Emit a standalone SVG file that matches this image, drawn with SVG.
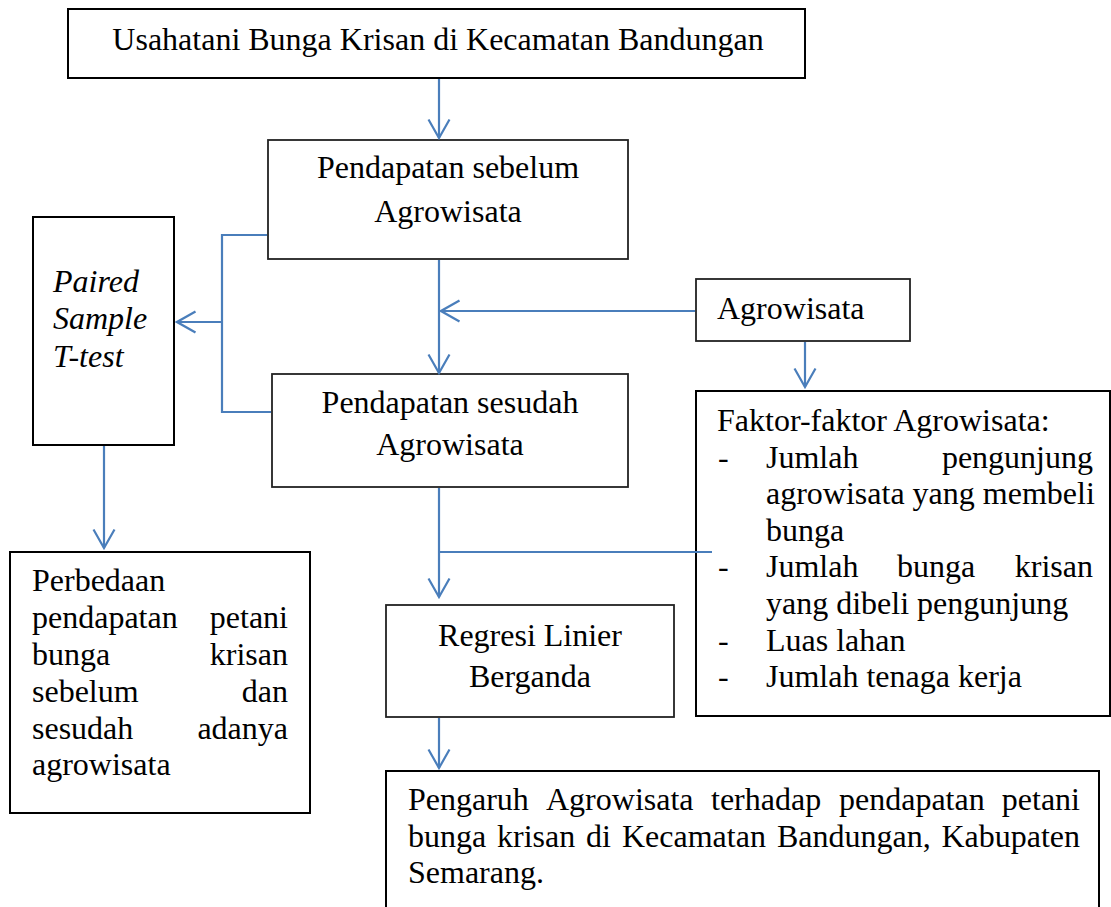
<svg xmlns="http://www.w3.org/2000/svg" width="1111" height="907" viewBox="0 0 1111 907">
<style>
.box{fill:#fff;stroke:#000;stroke-width:2}
.box2{fill:#fff;stroke:#222;stroke-width:1.8}
.t{font-family:"Liberation Serif","Times New Roman",serif;font-size:32px;fill:#000}
.c{text-anchor:middle}
.e{text-anchor:end}
.i{font-style:italic}
.con{fill:none;stroke:#4A7EBB;stroke-width:2.2}
</style>
<defs>
<marker id="arr" markerUnits="userSpaceOnUse" viewBox="0 0 22 24" refX="20" refY="12" markerWidth="22" markerHeight="24" orient="auto">
<path d="M1.5,1.5 L20,12 L1.5,22.5" fill="none" stroke="#4A7EBB" stroke-width="2.2"/>
</marker>
</defs>
<rect width="1111" height="907" fill="#fff"/>
<g id="usahatani">
<rect class="box" x="68" y="9" width="737" height="69"/>
<text class="t c" x="438" y="50">Usahatani Bunga Krisan di Kecamatan Bandungan</text>
</g>
<g id="sebelum">
<rect class="box2" x="268" y="140" width="360" height="119"/>
<text class="t c" x="448" y="178">Pendapatan sebelum</text>
<text class="t c" x="448" y="222">Agrowisata</text>
</g>
<g id="paired">
<rect class="box" x="33" y="217" width="141" height="228"/>
<text class="t i" x="53" y="292">Paired</text>
<text class="t i" x="53" y="329">Sample</text>
<text class="t i" x="53" y="367">T-test</text>
</g>
<g id="agrowisata">
<rect class="box2" x="696" y="279" width="214" height="62"/>
<text class="t" x="717" y="319">Agrowisata</text>
</g>
<g id="sesudah">
<rect class="box2" x="272" y="374" width="356" height="113"/>
<text class="t c" x="450" y="413">Pendapatan sesudah</text>
<text class="t c" x="450" y="455">Agrowisata</text>
</g>
<g id="faktor">
<rect class="box" x="696" y="391" width="414" height="325"/>
<text class="t" x="717" y="431">Faktor-faktor Agrowisata:</text>
<text class="t" x="718" y="467.6">-</text>
<text class="t" x="766" y="467.6">Jumlah</text>
<text class="t e" x="1093" y="467.6">pengunjung</text>
<text class="t" x="766" y="504.2">agrowisata yang membeli</text>
<text class="t" x="766" y="540.8">bunga</text>
<text class="t" x="718" y="577.4">-</text>
<text class="t" x="766" y="577.4">Jumlah</text>
<text class="t" x="897" y="577.4">bunga</text>
<text class="t e" x="1093" y="577.4">krisan</text>
<text class="t" x="766" y="614">yang dibeli pengunjung</text>
<text class="t" x="718" y="650.6">-</text>
<text class="t" x="766" y="650.6">Luas lahan</text>
<text class="t" x="718" y="687.2">-</text>
<text class="t" x="766" y="687.2">Jumlah tenaga kerja</text>
</g>
<g id="perbedaan">
<rect class="box" x="10" y="552" width="300" height="261"/>
<text class="t" x="32" y="591">Perbedaan</text>
<text class="t" x="32" y="628">pendapatan</text>
<text class="t e" x="288" y="628">petani</text>
<text class="t" x="32" y="665">bunga</text>
<text class="t e" x="288" y="665">krisan</text>
<text class="t" x="32" y="702">sebelum</text>
<text class="t e" x="288" y="702">dan</text>
<text class="t" x="32" y="738.5">sesudah</text>
<text class="t e" x="288" y="738.5">adanya</text>
<text class="t" x="32" y="775">agrowisata</text>
</g>
<g id="regresi">
<rect class="box2" x="386" y="605" width="288" height="112"/>
<text class="t c" x="530" y="646">Regresi Linier</text>
<text class="t c" x="530" y="687">Berganda</text>
</g>
<g id="pengaruh">
<rect class="box" x="386" y="771" width="713" height="150"/>
<text class="t" y="810"><tspan x="408">Pengaruh</tspan> <tspan x="546">Agrowisata</tspan> <tspan x="711">terhadap</tspan> <tspan x="839">pendapatan</tspan> <tspan x="1080" text-anchor="end">petani</tspan></text>
<text class="t" y="846.6"><tspan x="408">bunga</tspan> <tspan x="497">krisan</tspan> <tspan x="586">di</tspan> <tspan x="622">Kecamatan</tspan> <tspan x="777">Bandungan,</tspan> <tspan x="1080" text-anchor="end">Kabupaten</tspan></text>
<text class="t" x="408" y="883">Semarang.</text>
</g>
<g id="connectors">
<path class="con" d="M439,79 V138" marker-end="url(#arr)"/>
<path class="con" d="M267,235 H222 V412 H271"/>
<path class="con" d="M222,322 H177" marker-end="url(#arr)"/>
<path class="con" d="M439,260 V373" marker-end="url(#arr)"/>
<path class="con" d="M695,311 H441" marker-end="url(#arr)"/>
<path class="con" d="M805,342 V387" marker-end="url(#arr)"/>
<path class="con" d="M104,446 V548" marker-end="url(#arr)"/>
<path class="con" d="M439,488 V597" marker-end="url(#arr)"/>
<path class="con" d="M439,552 H712"/>
<path class="con" d="M439,718 V768" marker-end="url(#arr)"/>
</g>
</svg>
